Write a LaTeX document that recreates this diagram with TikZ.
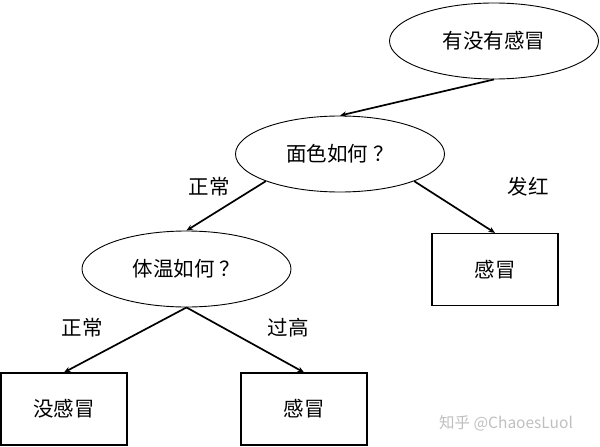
\documentclass[tikz,border=0pt]{standalone}
\usepackage{fontspec}
\setmainfont{Noto Sans CJK SC}
\usetikzlibrary{positioning,arrows.meta,shapes.geometric}

\newcommand{\qmark}{\kern0.22em？}

\begin{document}
\begin{tikzpicture}[
  x=1pt, y=-1pt, on grid,
  every node/.style = {font=\fontsize{20.5}{20.5}\selectfont},
  question/.style = {ellipse, draw, line width=0.9pt, minimum width=209pt, minimum height=76pt, inner sep=0pt},
  leaf/.style = {rectangle, draw, line width=1.2pt, minimum width=126pt, minimum height=72pt},
  branch/.style = {->, line width=1.7pt},
  >={Stealth[length=6.5pt, width=5.5pt]}
]
  \useasboundingbox (0,0) rectangle (600,447);
  \node[question] (root) at (494,41) {有没有感冒};
  \node[question, below left = 113pt and 154pt of root] (face) {面色如何\qmark};
  \node[question, below left = 115pt and 153.5pt of face] (temp) {体温如何\qmark};
  \node[leaf, below right = 115.5pt and 155pt of face] (red) {感冒};
  \node[leaf, below left = 140pt and 122.5pt of temp] (nocold) {没感冒};
  \node[leaf, below right = 140pt and 117.5pt of temp] (cold) {感冒};
  \draw[branch] (root.south) -- (face.north);
  \draw[branch] (face.south west) -- (temp.north);
  \draw[branch] (face.south east) -- (red.north);
  \draw[branch] (temp.south) -- (nocold.north);
  \draw[branch] (temp.south) -- (cold.north);
  % branch labels
  \node (lblnormal) at (209,187) {正常};
  \node (lblred) at (528,187) {发红};
  \node (lblnormalb) at (82,328) {正常};
  \node (lblhigh) at (288,328) {过高};
  \node[font=\fontsize{15.5}{15.5}\selectfont, text=black!25] (watermark) at (506,423) {知乎 @ChaoesLuol};
\end{tikzpicture}
\end{document}
